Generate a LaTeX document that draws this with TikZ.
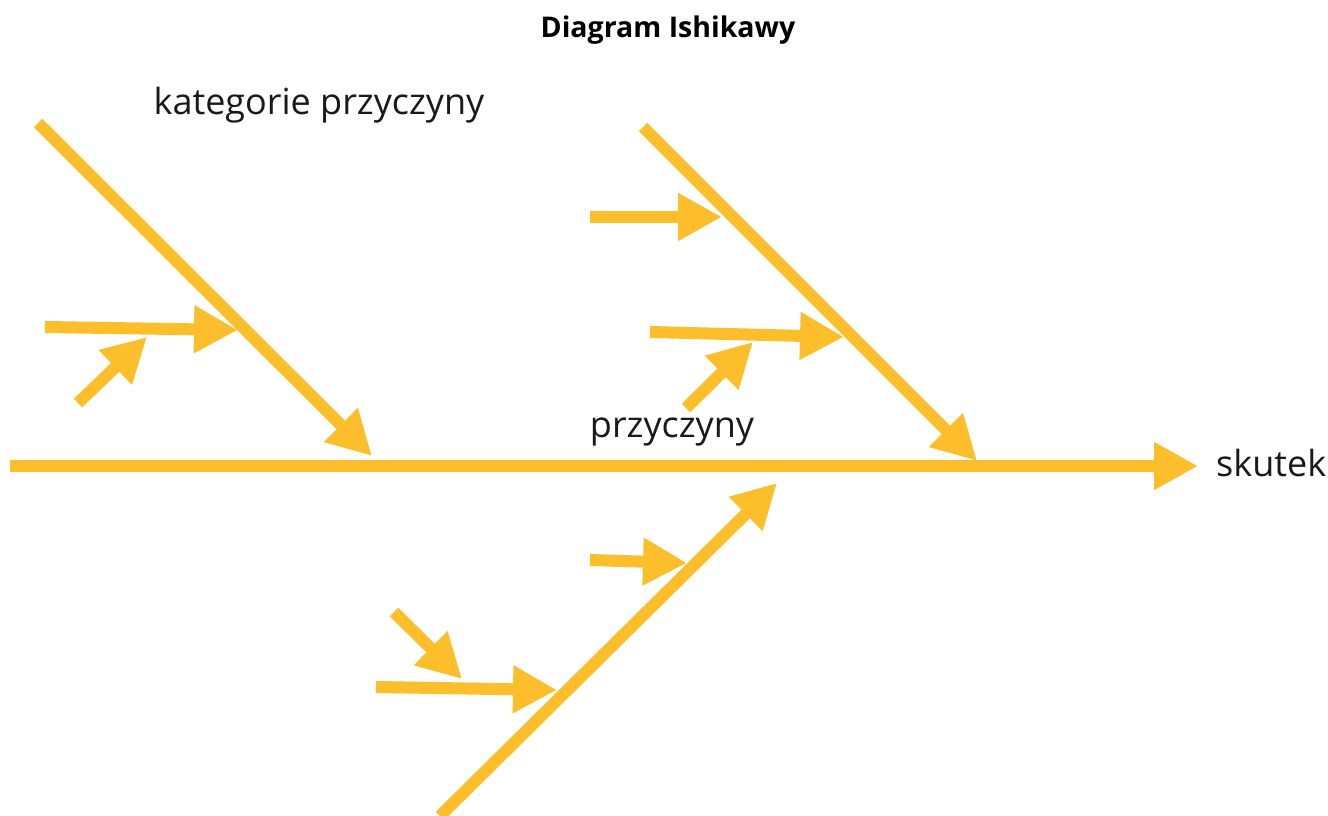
\documentclass[tikz,border=0pt]{standalone}
\usepackage{fontspec}
\setmainfont{Open Sans}
\usetikzlibrary{arrows.meta}
\definecolor{fishyellow}{HTML}{FDBE2C}
\tikzset{
  bone/.style={draw=fishyellow, line width=12pt, -{Triangle[length=44pt,width=45pt]}},
  lbl/.style={text=black!90, inner sep=0pt, font=\fontsize{36}{42}\selectfont},
}
\begin{document}
\begin{tikzpicture}[x=1pt,y=-1pt]
\useasboundingbox (0,0) rectangle (1328,816);
% coordinates
\coordinate (s0) at (10,466);
\coordinate (s1) at (1198,466);
\coordinate (ul0) at (38,123);
\coordinate (ul1) at (372,456);
\coordinate (ur0) at (643,127);
\coordinate (ur1) at (977,461);
\coordinate (lo0) at (440,816);
\coordinate (lo1) at (777,483);
\coordinate (a0) at (45,327);   \coordinate (a1) at (238,330);
\coordinate (b0) at (78,403);   \coordinate (b1) at (147,337);
\coordinate (c0) at (590,217);  \coordinate (c1) at (722,217);
\coordinate (d0) at (650,332);  \coordinate (d1) at (844,337);
\coordinate (e0) at (686,408);  \coordinate (e1) at (753,342);
\coordinate (f0) at (590,560);  \coordinate (f1) at (687,563);
\coordinate (g0) at (394,612);  \coordinate (g1) at (462,679);
\coordinate (h0) at (376,687);  \coordinate (h1) at (557,690);
% connectors
\draw[bone] (s0) -- (s1);
\draw[bone] (ul0) -- (ul1);
\draw[bone] (ur0) -- (ur1);
\draw[bone] (lo0) -- (lo1);
\foreach \p in {a,b,c,d,e,f,g,h} {\draw[bone] (\p0) -- (\p1);}
% labels
\node[font=\bfseries\fontsize{28.5}{34}\selectfont, inner sep=0pt] (title) at (668,30) {Diagram Ishikawy};
\node[lbl] (kat) at (319,105) {kategorie przyczyny};
\node[lbl] (prz) at (672,432) {przyczyny};
\node[lbl, anchor=west] (sku) at (1216,463) {skutek};
\end{tikzpicture}
\end{document}
